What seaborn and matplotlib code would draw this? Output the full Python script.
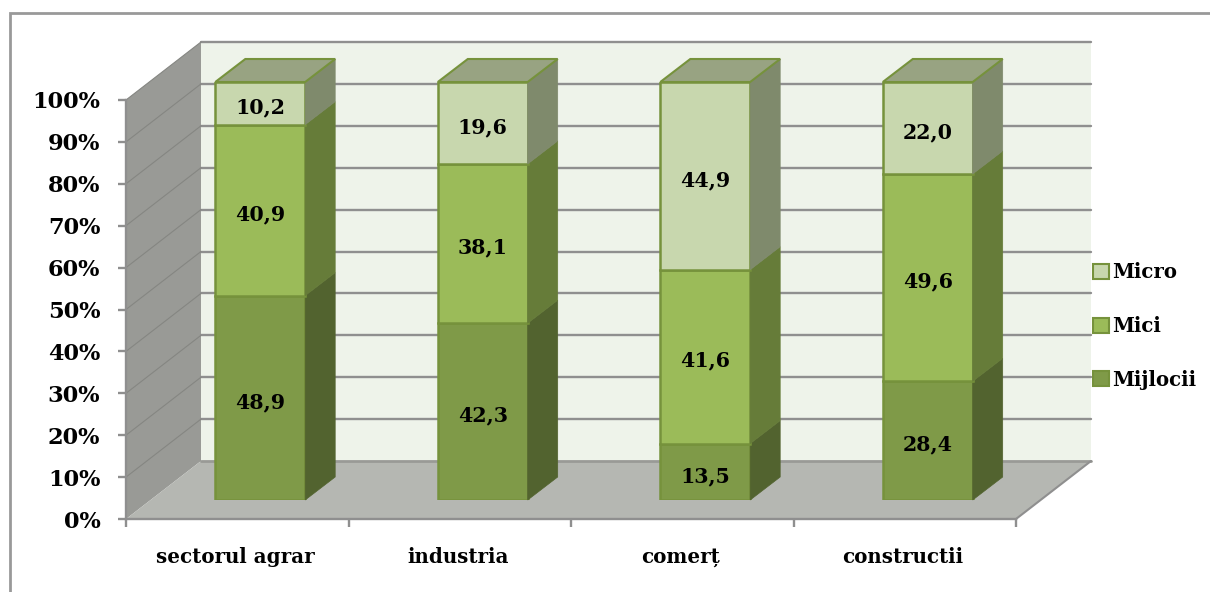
import matplotlib
matplotlib.use('Agg')
import matplotlib.pyplot as plt
from matplotlib.patches import Polygon, Rectangle, Patch
from matplotlib.transforms import ScaledTranslation
import seaborn as sns

categories = ['sectorul agrar', 'industria', 'comerț', 'constructii']
mijlocii = [48.9, 42.3, 13.5, 28.4]
mici = [40.9, 38.1, 41.6, 49.6]
micro = [10.2, 19.6, 44.9, 22.0]
yticks = [0, 10, 20, 30, 40, 50, 60, 70, 80, 90, 100]

W, H = 1210, 592
GRID = '#8f8f8f'
EDGE = '#76923c'
FRONT = {'Mijlocii': '#7f9a48', 'Mici': '#9bbb59', 'Micro': '#c8d7ae'}
SIDE = {'Mijlocii': '#52632f', 'Mici': '#667c39', 'Micro': '#7f8a6c'}
TOP = '#98a382'


def axes_px(left, right, top, bottom):
    return [left / W, 1 - bottom / H, (right - left) / W, (bottom - top) / H]


def main():
    sns.set_theme(style='white')
    plt.rcParams['font.family'] = ['DejaVu Serif']
    plt.rcParams['font.weight'] = 'bold'

    fig = plt.figure(figsize=(W / 100, H / 100), dpi=100)
    fig.add_artist(Rectangle((10 / W, -0.05), 1.1, 1 - 13 / H + 0.05, transform=fig.transFigure,
                             fill=False, edgecolor='#999999', lw=2))

    # walls and floor, with the real axis
    ax = fig.add_axes(axes_px(126, 1016, 100, 519))
    ax.patch.set_alpha(0)
    ax.set_xlim(-0.5, 3.5)
    ax.set_ylim(0, 100)
    dx = 75 / 222.5
    dy = 58 / 4.19
    ax.add_patch(Rectangle((-0.5 + dx, dy), 4, 100, color='#eef3ea', lw=0, clip_on=False, zorder=1))
    ax.add_patch(Polygon([(-0.5, 0), (-0.5 + dx, dy), (-0.5 + dx, 100 + dy), (-0.5, 100)],
                         color='#999a96', lw=0, clip_on=False, zorder=1))
    ax.add_patch(Polygon([(-0.5, 0), (3.5, 0), (3.5 + dx, dy), (-0.5 + dx, dy)],
                         color='#b5b7b2', lw=0, clip_on=False, zorder=1))
    for y in yticks[1:]:
        ax.plot([-0.5 + dx, 3.5 + dx], [y + dy, y + dy], color=GRID, lw=1.7, clip_on=False, zorder=2)
        ax.plot([-0.5, -0.5 + dx], [y, y + dy], color='#858682', lw=0.8, clip_on=False, zorder=2)
    ax.plot([-0.5 + dx, 3.5 + dx], [dy, dy], color='#999a96', lw=2, clip_on=False, zorder=2)
    ax.plot([3.5, 3.5 + dx], [0, dy], color=GRID, lw=1.5, clip_on=False, zorder=2)

    ax.set_yticks(yticks, [f'{y}%' for y in yticks], fontsize=16.2, fontweight='bold', color='black')
    ax.set_xticks([-0.5, 0.5, 1.5, 2.5, 3.5], [''] * 5)
    ax.set_xticks(range(4), categories, minor=True, fontsize=14.3, fontweight='bold', color='black')
    ax.tick_params(axis='both', which='major', length=6, width=1.7, color=GRID, left=True, bottom=True)
    ax.tick_params(axis='y', pad=12.5)
    ax.tick_params(axis='x', which='minor', length=0, pad=20)
    sns.despine(ax=ax, top=True, right=True)
    for side in ['left', 'bottom']:
        ax.spines[side].set_color(GRID)
        ax.spines[side].set_linewidth(1.7)
    for label in ax.get_xticklabels(minor=True):
        label.set_transform(label.get_transform() + ScaledTranslation(-2 / 100, 0, fig.dpi_scale_trans))

    # bars sit on a plane half way into the floor
    bars = fig.add_axes(axes_px(149, 1039, 82, 500))
    bars.patch.set_alpha(0)
    bottom = [0, 0, 0, 0]
    series = [('Mijlocii', mijlocii), ('Mici', mici), ('Micro', micro)]
    for name, values in series:
        sns.barplot(x=categories, y=values, bottom=bottom, color=FRONT[name], saturation=1,
                    width=0.404, edgecolor=EDGE, linewidth=1.8, ax=bars)
        container = bars.containers[-1]
        texts = bars.bar_label(container, labels=[f'{v:.1f}'.replace('.', ',') for v in values],
                               label_type='center', fontsize=14.8, fontweight='bold', color='black', zorder=6)
        for text in texts:
            text.xyann = (0, -3)
        bdx = 30 / 222.5
        bdy = 23 / 4.18
        for bar in container:
            x1 = bar.get_x() + bar.get_width()
            y0, y1 = bar.get_y(), bar.get_y() + bar.get_height()
            bars.add_patch(Polygon([(x1, y0), (x1 + bdx, y0 + bdy), (x1 + bdx, y1 + bdy), (x1, y1)],
                                   facecolor=SIDE[name], edgecolor=SIDE[name], lw=0.5, clip_on=False))
            if name == 'Micro':
                x0 = bar.get_x()
                bars.add_patch(Polygon([(x0, y1), (x0 + bdx, y1 + bdy), (x1 + bdx, y1 + bdy), (x1, y1)],
                                       facecolor=TOP, edgecolor=EDGE, lw=1.5, clip_on=False))
        bottom = [b + v for b, v in zip(bottom, values)]
    bars.set_xlim(-0.5, 3.5)
    bars.set_ylim(0, 100)
    bars.axis('off')

    handles = [Patch(facecolor=FRONT[n], edgecolor=EDGE, lw=1.5) for n in ['Micro', 'Mici', 'Mijlocii']]
    fig.legend(handles, ['Micro', 'Mici', 'Mijlocii'], loc='center left', frameon=False,
               bbox_to_anchor=(1075 / W, 1 - 326 / H), handlelength=0.8, handleheight=0.8,
               handletextpad=0.2, labelspacing=1.7, labelcolor='black',
               prop={'family': 'DejaVu Serif', 'weight': 'bold', 'size': 14.2})

    fig.savefig('out.png', dpi=100)


if __name__ == '__main__':
    main()
